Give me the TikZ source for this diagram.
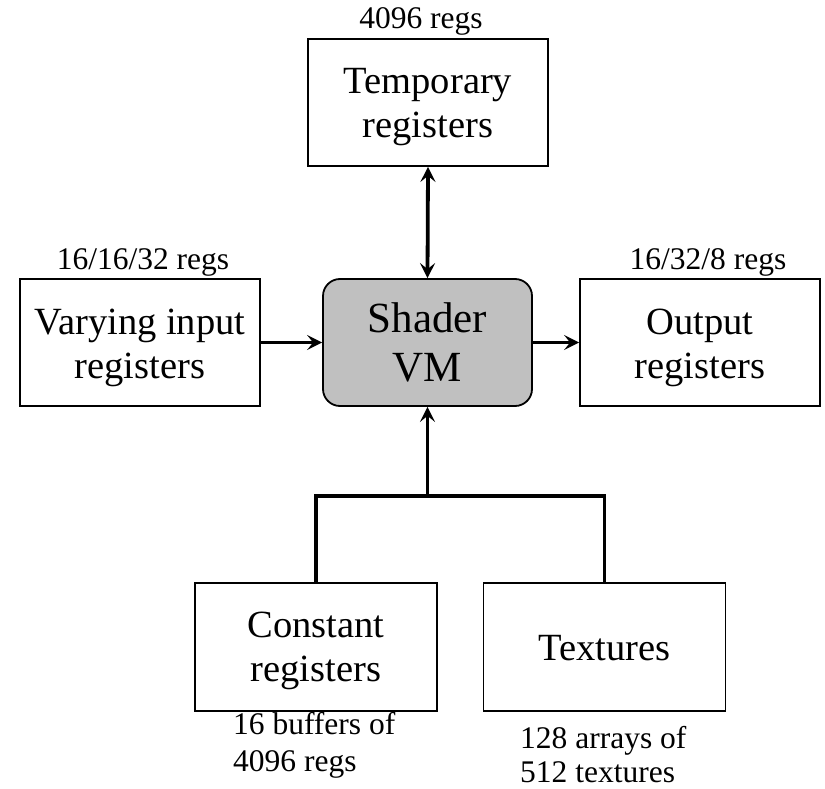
\documentclass[tikz,border=0pt]{standalone}
\usepackage{fontspec}
\setmainfont{Liberation Serif}
\usetikzlibrary{arrows.meta}
\definecolor{vmgray}{HTML}{C0C0C0}
\begin{document}
\begin{tikzpicture}[x=1pt,y=-1pt,
  box/.style={draw, line width=1.8pt, minimum width=240pt, minimum height=127pt, inner sep=0pt},
  vmbox/.style={box, minimum width=209pt, rounded corners=17pt, fill=vmgray,
    align=center, font=\fontsize{43}{49}\selectfont},
  btext/.style={align=center, inner sep=0pt, font=\fontsize{38.5}{44}\selectfont},
  conn/.style={line width=3.8pt},
  arr/.style={conn, -{Stealth[length=15pt,width=15pt,inset=6pt]}},
  arrboth/.style={conn, {Stealth[length=15pt,width=15pt,inset=6pt]}-{Stealth[length=15pt,width=15pt,inset=6pt]}},
  lbl/.style={font=\fontsize{31.5}{38}\selectfont, inner sep=0pt, anchor=base},
  lblw/.style={lbl, anchor=base west}]
\useasboundingbox (0,0) rectangle (825,789);
\node[box] (T) at (428,102.5) {};
\node[btext] (Tt) at ([yshift=-5pt]T.center) {Temporary\\registers};
\node[vmbox] (S) at (427.5,342.5) {Shader\\VM};
\node[box] (V) at (140,342.5) {};
\node[btext] (Vt) at ([yshift=-5pt]V.center) {Varying input\\registers};
\node[box] (O) at (700,342.5) {};
\node[btext] (Ot) at ([yshift=-5pt]O.center) {Output\\registers};
\node[box, minimum width=242pt, minimum height=128pt] (C) at (316,647) {};
\node[btext] (Ct) at ([yshift=-4pt]C.center) {Constant\\registers};
\node[box, minimum width=242pt, minimum height=128pt] (X) at (604.5,647) {};
\node[btext] (Xt) at ([yshift=-1pt]X.center) {Textures};
\node[lbl] (lT) at (421,29) {4096 regs};
\node[lbl] (lV) at (143,269) {16/16/32 regs};
\node[lbl] (lO) at (708,269) {16/32/8 regs};
\node[lblw] (lC1) at (233,734) {16 buffers of};
\node[lblw] (lC2) at (233,771) {4096 regs};
\node[lblw] (lX1) at (520,748) {128 arrays of};
\node[lblw] (lX2) at (520,782) {512 textures};
\coordinate (J) at (427.5,496);
\draw[arrboth] (T.south) -- (S.north);
\draw[arr] (V.east) -- (S.west);
\draw[arr] (S.east) -- (O.west);
\draw[arr] (J) -- (S.south);
\draw[conn] (C.north) |- (X.north |- J) -- (X.north);
\end{tikzpicture}
\end{document}
